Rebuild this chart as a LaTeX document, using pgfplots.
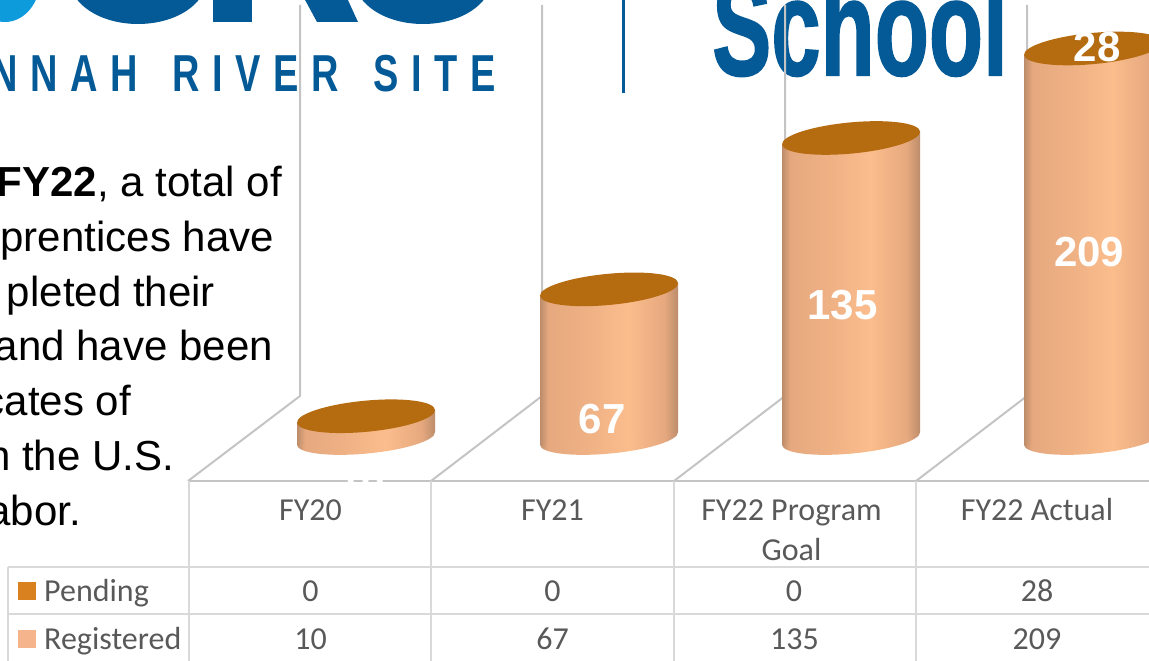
\documentclass[border=0pt]{standalone}
\usepackage{graphicx}
\usepackage{fontspec}
\setmainfont{Liberation Sans}
\newfontfamily\carlito{Carlito}
\newfontfamily\logofont[LetterSpace=33]{Liberation Sans}
\newfontfamily\schoolfont[BoldFeatures={FakeBold=1.5}]{Liberation Sans}
\usepackage{pgfplots}
\pgfplotsset{compat=1.18}
\definecolor{logoblue}{HTML}{045A96}
\definecolor{logosky}{HTML}{0E9BDC}
\definecolor{wall}{HTML}{C4C4C4}
\definecolor{tableline}{HTML}{D9D9D9}
\definecolor{tabletext}{HTML}{595959}
\definecolor{pendingc}{HTML}{D9811E}
\definecolor{registeredc}{HTML}{F6B48C}
\definecolor{topc}{HTML}{B56B10}
\definecolor{cyld}{HTML}{BC8C6A}
\definecolor{cylm}{HTML}{E6A97F}
\definecolor{cylb}{HTML}{FBBD8C}
\pgfdeclarehorizontalshading{cyl}{100bp}{color(0bp)=(cyld); color(25bp)=(cyld); color(28bp)=(cylm); color(42bp)=(cylm!60!cylb); color(57bp)=(cylb); color(70bp)=(cylm); color(75bp)=(cyld); color(100bp)=(cyld)}
\pgfdeclareplotmark{cylbase}{\pgfpathellipse{\pgfpointorigin}{\pgfqpoint{69pt}{6.5pt}}{\pgfqpoint{-1.4pt}{15pt}}\pgfshadepath{cyl}{0}\pgfusepath{discard}}
\pgfdeclareplotmark{cyltop}{\pgfpathellipse{\pgfpointorigin}{\pgfqpoint{69pt}{6.5pt}}{\pgfqpoint{-1.4pt}{15.5pt}}\pgfsetfillcolor{topc}\pgfusepathqfill}
\begin{document}
\begin{tikzpicture}
\clip (0,0) rectangle (1149pt,661pt);
\begin{scope}[x=1pt,y=-1pt,shift={(0pt,661pt)}]
  % slide behind the chart
  \fill[logosky] (5,-20) ellipse [x radius=35,y radius=42];
  \fill[logoblue] (138,-20) ellipse [x radius=68,y radius=44];
  \fill[logoblue] (423,-20) ellipse [x radius=68,y radius=44];
  \fill[logoblue] (213,-2) rectangle (252,22);
  \fill[logoblue] (304,-2) -- (317,22) -- (358,22) -- (347,-2) -- cycle;
  \node[anchor=base east,inner sep=0pt,text=logoblue] at (496,92)
    {\scalebox{.73}[1]{\fontsize{52}{52}\logofont\bfseries NNAH \hspace{16pt}RIVER \hspace{16pt}SITE}};
  \node[anchor=base west,inner sep=0pt,text=logoblue] at (712,75)
    {\scalebox{.647}[1]{\fontsize{137}{137}\schoolfont\bfseries School}};
  \draw[logoblue,line width=3pt] (623,-2) -- (623,93);
  % text
  \foreach \yy/\xx/\tt in {197/282/{\textbf{FY22}, a total of},252/274/{prentices have},307/215/{pleted their},361/273/{and have been},416/131/{cates of},471/174/{n the U.S.},526/81/{abor.}}
    \node[anchor=base east,inner sep=0pt,font=\fontsize{42}{55}\selectfont] at (\xx,\yy) {\tt};
  % walls and floor
  \draw[wall,line width=2pt] (300,5) -- (300,396) -- (188,481);
  \draw[wall,line width=2pt] (542,5) -- (542,396) -- (431,481);
  \draw[wall,line width=2pt] (785,5) -- (785,396) -- (674,481);
  \draw[wall,line width=2pt] (1027,5) -- (1027,396) -- (916,481);
  \draw[wall,line width=2.2pt] (188,481) -- (1149,481);
  % data table
  \draw[tableline,line width=2pt] (189,481) -- (189,661) (431,481) -- (431,661) (674,481) -- (674,661) (916,481) -- (916,661);
  \draw[tableline,line width=2pt] (8,567) -- (1149,567) (8,614.5) -- (1149,614.5) (8,567) -- (8,661);
  \fill[pendingc] (18,582) rectangle (36,600);
  \fill[registeredc] (18,630) rectangle (36,648);
  \begin{scope}[every node/.style={inner sep=0pt,anchor=base,text=tabletext,font=\fontsize{32}{37}\selectfont\carlito}]
    \node[anchor=base west] at (44,602) {Pending};
    \node[anchor=base west] at (44,649.5) {Registered};
    \node at (310.5,521) {FY20};
    \node at (552.5,521) {FY21};
    \node at (791.5,521) {FY22 Program};
    \node at (791.5,561) {Goal};
    \node at (1037,521) {FY22 Actual};
    \node at (310.5,602) {0};
    \node at (552.5,602) {0};
    \node at (794,602) {0};
    \node at (1037,602) {28};
    \node at (310.5,649.5) {10};
    \node at (552.5,649.5) {67};
    \node at (794.5,649.5) {135};
    \node at (1037,649.5) {209};
  \end{scope}
\end{scope}
\begin{axis}[
  at={(0pt,0pt)},anchor=south west,
  width=1149pt,height=661pt,scale only axis,
  hide axis,
  xmin=-1.5105,xmax=3.2315,
  ymin=-99.955,ymax=196.99,
  clip mode=individual,
]
% bases of the cylinders
\addplot[only marks,mark=cylbase] coordinates {(0,0) (1.0029,0) (2.0017,0) (3.0004,0)};
% Registered: 10, 67, 135, 209 (stack of 237 runs past the axis ceiling, about 175)
\addplot[shade,shading=cyl,draw=none,no markers] coordinates {(-0.2848,-2.92) (0.2848,2.92) (0.2848,12.92) (-0.2848,7.08)} --cycle;
\addplot[shade,shading=cyl,draw=none,no markers] coordinates {(0.7181,-2.92) (1.2877,2.92) (1.2877,69.92) (0.7181,64.08)} --cycle;
\addplot[shade,shading=cyl,draw=none,no markers] coordinates {(1.7169,-2.92) (2.2865,2.92) (2.2865,137.92) (1.7169,132.08)} --cycle;
\addplot[shade,shading=cyl,draw=none,no markers] coordinates {(2.7156,-2.92) (3.2852,2.92) (3.2852,178.12) (2.7156,172.28)} --cycle;
% tops of the cylinders
\addplot[only marks,mark=cyltop] coordinates {(0,10) (1.0029,67) (2.0017,135) (3.0004,175.2)};
% value labels
\addplot[only marks,mark=none,draw=none,
  nodes near coords,point meta=explicit symbolic,
  every node near coord/.style={anchor=center,inner sep=0pt,text=white,font=\fontsize{42}{42}\selectfont\bfseries}]
  coordinates {(-0.017,-19.1)[10] (0.975,8.8)[67] (1.966,60)[135] (2.984,83.8)[209] (3.017,175.9)[28]};
\end{axis}
\end{tikzpicture}
\end{document}
